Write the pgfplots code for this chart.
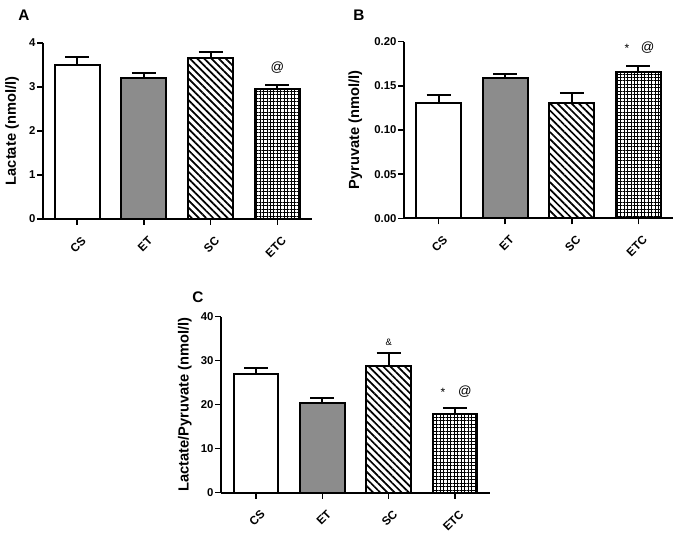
\documentclass[border=0pt]{standalone}
\usepackage{fontspec}
\setmainfont{Liberation Sans}
\usepackage{pgfplots}
\pgfplotsset{compat=1.18}
\usetikzlibrary{patterns.meta}
\definecolor{etgray}{RGB}{140,140,140}
\pgfplotsset{
  panel/.style={
    scale only axis, ybar, bar width=0.675, ymin=0,
    axis x line*=bottom, axis y line*=left,
    axis line style={line width=1.5pt},
    xtick={0,1,2,3}, xticklabels={CS,ET,SC,ETC},
    tick align=outside, major tick length=4.5pt,
    tick style={line width=1.1pt, black},
    xticklabel style={rotate=45, anchor=north east, inner sep=1pt, yshift=-6.5pt, xshift=-2.5pt,
      font=\bfseries\fontsize{8.8}{10}\selectfont},
    yticklabel style={inner sep=1pt, font=\bfseries\fontsize{8.5}{10}\selectfont},
    ylabel style={font=\bfseries\fontsize{11}{13}\selectfont, at={(axis description cs:-0.115,0.5)}, anchor=center},
    /pgf/number format/assume math mode=true,
    clip=false, anchor=south west,
    every axis plot/.append style={bar shift=0pt, draw=black, line width=1.5pt,
      error bars/y dir=plus, error bars/y explicit,
      error bars/error bar style={line width=1.5pt, black},
      error bars/error mark options={rotate=90, mark size=9pt, line width=1.5pt, black}},
  },
  sc/.style={pattern={Lines[angle=-45, distance=3.8pt, line width=1.3pt]}, pattern color=black},
  etc/.style={pattern={Hatch[angle=0, distance=2.6pt, line width=0.6pt]}, pattern color=black},
}
\begin{document}
\begin{tikzpicture}
\path[use as bounding box] (0,0) rectangle (677*0.75pt, 535*0.75pt);
% Panel letters
\node[font=\bfseries\fontsize{11.5}{13}\selectfont] at (24*0.75pt, {(535-15)*0.75pt}) {A};
\node[font=\bfseries\fontsize{11.5}{13}\selectfont] at (359*0.75pt, {(535-15)*0.75pt}) {B};
\node[font=\bfseries\fontsize{11.5}{13}\selectfont] at (198*0.75pt, {(535-297)*0.75pt}) {C};

% A
\begin{axis}[panel, at={(43*0.75pt, {(535-219)*0.75pt})},
  width=269*0.75pt, height=176*0.75pt,
  xmin=-0.51, xmax=3.52, ymax=4, ytick={0,1,2,3,4},
  ylabel={Lactate (nmol/l)}]
\addplot[fill=white] coordinates {(0,3.49) +- (0,0.19)};
\addplot[fill=etgray] coordinates {(1,3.20) +- (0,0.11)};
\addplot[sc] coordinates {(2,3.65) +- (0,0.14)};
\addplot[etc] coordinates {(3,2.96) +- (0,0.09)};
\node[font=\fontsize{10}{12}\selectfont] at (axis cs:3,3.43) {@};
\end{axis}

% B
\begin{axis}[panel, at={(404*0.75pt, {(535-218.3)*0.75pt})},
  width=269*0.75pt, height=176.6*0.75pt,
  xmin=-0.52, xmax=3.52, ymax=0.2, ytick={0,0.05,0.1,0.15,0.2},
  yticklabel style={/pgf/number format/.cd, fixed, fixed zerofill, precision=2},
  ylabel style={at={(axis description cs:-0.181,0.5)}},
  ylabel={Pyruvate (nmol/l)}]
\addplot[fill=white] coordinates {(0,0.1309) +- (0,0.0091)};
\addplot[fill=etgray] coordinates {(1,0.1585) +- (0,0.0048)};
\addplot[sc] coordinates {(2,0.1310) +- (0,0.0105)};
\addplot[etc] coordinates {(3,0.1660) +- (0,0.0064)};
\node[font=\fontsize{9}{10}\selectfont] at (axis cs:2.83,0.1921) {*};
\node[font=\fontsize{10}{12}\selectfont] at (axis cs:3.14,0.1929) {@};
\end{axis}

% C
\begin{axis}[panel, at={(221*0.75pt, {(535-492.7)*0.75pt})},
  width=269*0.75pt, height=176*0.75pt,
  xmin=-0.53, xmax=3.53, ymax=40, ytick={0,10,20,30,40},
  ylabel style={at={(axis description cs:-0.134,0.5)}},
  ylabel={Lactate/Pyruvate (nmol/l)}]
\addplot[fill=white] coordinates {(0,26.98) +- (0,1.35)};
\addplot[fill=etgray] coordinates {(1,20.3) +- (0,1.2)};
\addplot[sc] coordinates {(2,28.7) +- (0,3.1)};
\addplot[etc] coordinates {(3,18.0) +- (0,1.2)};
\node[font=\fontsize{7}{9}\selectfont] at (axis cs:2,34.1) {\&};
\node[font=\fontsize{9}{10}\selectfont] at (axis cs:2.82,22.7) {*};
\node[font=\fontsize{10}{12}\selectfont] at (axis cs:3.15,22.95) {@};
\end{axis}
\end{tikzpicture}
\end{document}
